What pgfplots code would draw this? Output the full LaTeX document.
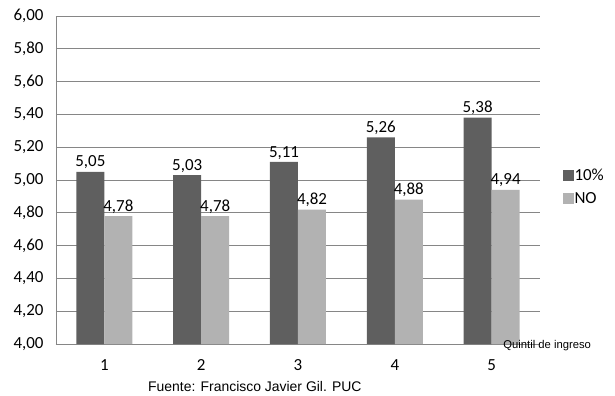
\documentclass[border=0pt]{standalone}
\usepackage{pgfplots}
\pgfplotsset{compat=1.18}
\usepackage{fontspec}
\setmainfont{Carlito}
\newfontfamily\arialf{Liberation Sans}
\definecolor{darkbar}{HTML}{5F5F5F}
\definecolor{lightbar}{HTML}{B2B2B2}
\definecolor{gridc}{HTML}{868686}
\begin{document}
\begin{tikzpicture}
\begin{axis}[
  at={(0,0)}, anchor=south west,
  scale only axis, width=484bp, height=328bp,
  ymin=4, ymax=6, ytick={4,4.2,...,6.01},
  xmin=-0.5, xmax=4.5, xtick={0,1,2,3,4}, xticklabels={1,2,3,4,5},
  ybar=0pt, bar width=28bp,
  axis x line*=bottom, axis y line*=left,
  axis line style={gridc, line width=0.8pt},
  every outer x axis line/.append style={-}, every outer y axis line/.append style={-},
  ymajorgrids, grid style={gridc, line width=0.8pt},
  major tick length=0pt,
  /pgf/number format/fixed, /pgf/number format/fixed zerofill,
  /pgf/number format/precision=2, /pgf/number format/use comma,
  /pgf/number format/assume math mode=true,
  tick label style={font=\fontsize{17}{18}\selectfont},
  yticklabel style={xshift=-9bp},
  xticklabel style={yshift=-12bp},
  nodes near coords,
  nodes near coords style={font=\fontsize{17}{18}\selectfont, inner sep=2.5bp},
  legend style={draw=none, at={(rel axis cs:1.04,0.479)}, anchor=west, font=\fontsize{17}{18}\selectfont, row sep=9bp, fill=none, nodes={inner sep=1bp}},
  legend cell align=left,
  legend image code/.code={\fill[#1] (-3bp,-5.5bp) rectangle (8bp,5.5bp);},
  clip=false,
]
\addplot[fill=darkbar, draw=none] coordinates {(0,5.05) (1,5.03) (2,5.11) (3,5.26) (4,5.38)};
\addplot[fill=lightbar, draw=none] coordinates {(0,4.78) (1,4.78) (2,4.82) (3,4.88) (4,4.94)};
\legend{10\%, NO}
\node[anchor=west, font=\arialf\fontsize{11.3}{12}\selectfont, inner sep=0pt] at (rel axis cs:0.924,-0.005) {Quintil de ingreso};
\node[anchor=west, font=\arialf\fontsize{14}{15}\selectfont, inner sep=0pt] at (rel axis cs:0.19,-0.13) {Fuente: Francisco Javier Gil. PUC};
\end{axis}
\path[use as bounding box] (-56bp,-52bp) rectangle (559bp,344bp);
\end{tikzpicture}
\end{document}
